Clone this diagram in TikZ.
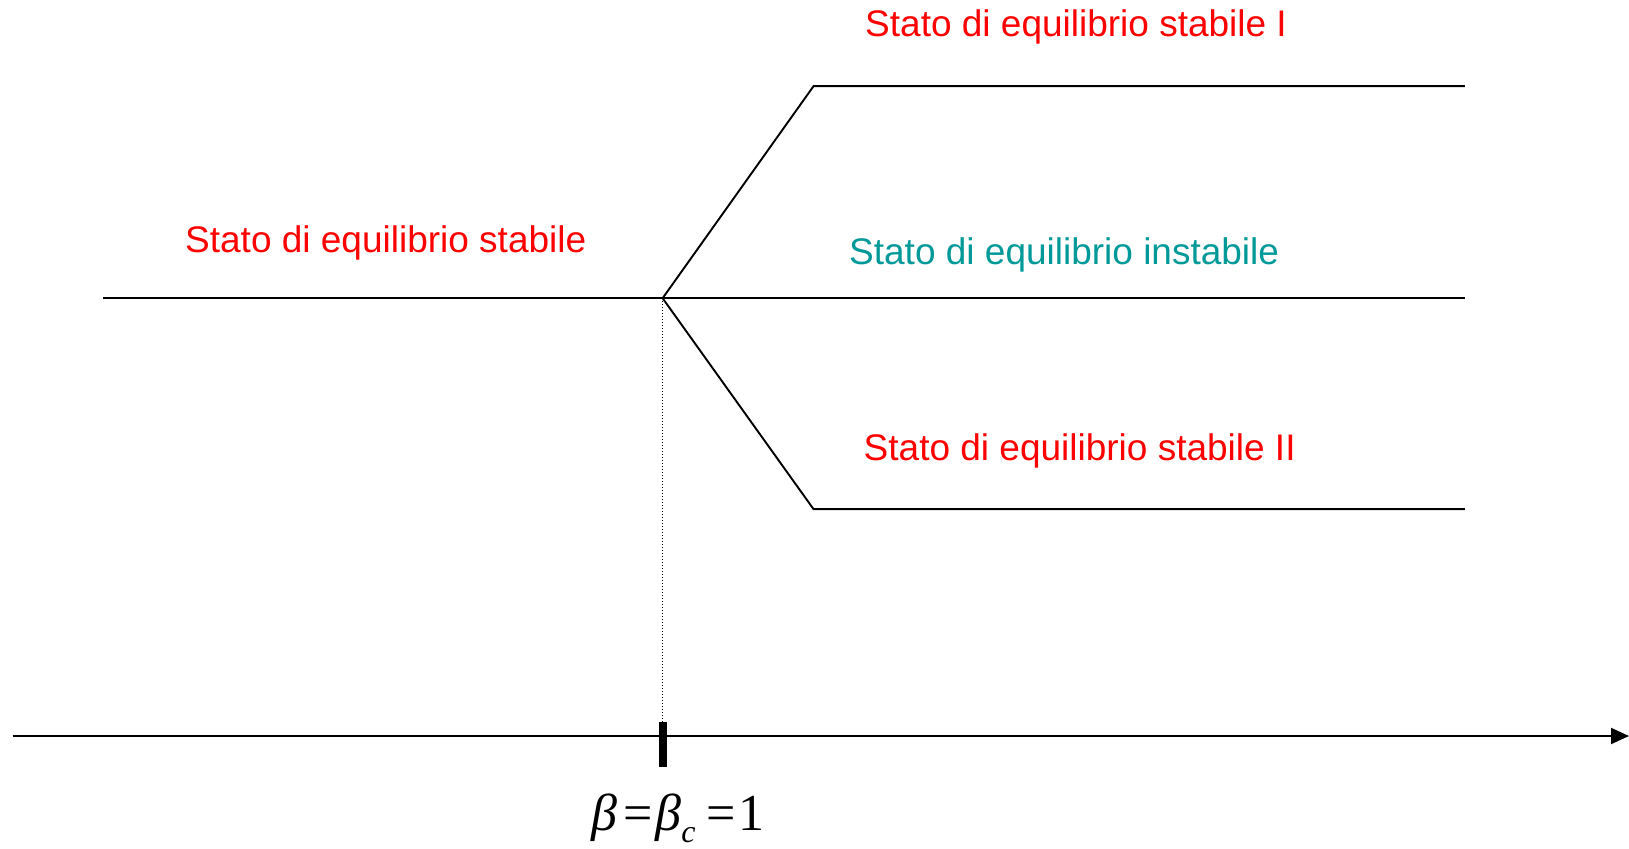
\documentclass[tikz,border=0pt]{standalone}
\usepackage{fontspec}
\setmainfont{Liberation Sans}
\newfontfamily\serifnum{Liberation Serif}
\usetikzlibrary{arrows.meta}
\definecolor{lblred}{RGB}{255,0,0}
\definecolor{lblteal}{RGB}{0,153,153}
\begin{document}
\begin{tikzpicture}[x=1pt,y=-1pt,
  curve/.style={line width=1.9pt,black},
  lbl/.style={anchor=base west,inner sep=0pt,font=\fontsize{37}{40}\selectfont},
  ]
\useasboundingbox (0,0) rectangle (1629,848);
% nodes / coordinates
\coordinate (L) at (102.9,298.2);
\coordinate (B) at (662.6,298.2);
\coordinate (R) at (1464.9,298.2);
\coordinate (U1) at (813.5,86.2);
\coordinate (U2) at (1464.9,86.2);
\coordinate (D1) at (813.5,509.1);
\coordinate (D2) at (1464.9,509.1);
\coordinate (A0) at (12.5,736);
\coordinate (A1) at (1629,736);
\coordinate (T1) at (662.6,722);
\coordinate (T2) at (662.6,767);
% curves
\draw[curve] (L) -- (B) -- (R);
\draw[curve,line join=miter] (B) -- (U1) -- (U2);
\draw[curve,line join=miter] (B) -- (D1) -- (D2);
\draw[line width=1pt,dotted] (B) -- (T1);
% axis
\draw[line width=2pt,-{Triangle[length=18pt,width=16pt]}] (A0) -- (A1);
\draw[line width=8pt] (T1) -- (T2);
% labels
\node[lbl,text=lblred] (s0) at (185,252) {Stato di equilibrio stabile};
\node[lbl,text=lblred] (s1) at (865,37) {Stato di equilibrio stabile I};
\node[lbl,text=lblteal] (s2) at (849,264) {Stato di equilibrio instabile};
\node[lbl,text=lblred] (s3) at (863.5,460) {Stato di equilibrio stabile II};
\node[anchor=base,inner sep=0pt,font=\serifnum\fontsize{52}{56}\selectfont] (beta) at (678,830)
  {\textit{β}\hspace{6pt}=\hspace{3pt}\textit{β}\raisebox{-12pt}{\fontsize{32}{32}\selectfont\textit{c}}\hspace{11pt}=\hspace{3pt}1};
\end{tikzpicture}
\end{document}
